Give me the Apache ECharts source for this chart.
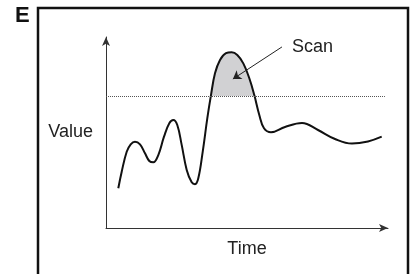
<!DOCTYPE html>
<html>
<head>
<meta charset="utf-8">
<script src="https://cdn.jsdelivr.net/npm/echarts@6/dist/echarts.min.js"></script>
<style>
  html, body { margin: 0; padding: 0; background: #fff; }
  #chart { width: 412px; height: 274px; }
</style>
</head>
<body>
<div id="chart"></div>
<script>
// curve (time 0-100, value 0-100)
const timePts = [4.36, 5.57, 7.34, 8.76, 10.28, 12.06, 13.83, 15.35, 16.77, 18.55,
  20.57, 22.45, 23.87, 25.28, 26.84, 28.62, 30.39, 31.56, 32.73, 34.29,
  35.92, 37.23, 38.65, 40.43, 42.55, 44.57, 46.56, 48.69, 50.82, 52.59,
  54.36, 56.03, 58.51, 63.48, 69.5, 75.18, 81.21, 87.23, 92.91, 97.77];
const valuePts = [20.8, 29.5, 39.9, 43.8, 45.2, 43.8, 39.1, 35.1, 34.4, 38.2,
  47.8, 54.8, 56.5, 53.9, 43.5, 30.4, 23.9, 22.9, 26.0, 39.9,
  57.4, 69.6, 81.0, 88.0, 91.5, 92.0, 90.6, 86.2, 78.4, 69.6,
  59.2, 52.2, 50.1, 52.9, 55.0, 51.3, 46.6, 44.2, 45.3, 47.8];
const threshold = 69.1;
// "Scan" pointer, from label to shaded peak
const scanFrom = [62.4, 94.8];
const scanTo = [45.0, 78.0];

const chart = echarts.init(document.getElementById('chart'));
const font = 'Liberation Sans, Arial, Helvetica, sans-serif';

const axisLine = {
  show: true,
  symbol: ['none', 'arrow'],
  symbolSize: [6, 9],
  lineStyle: { color: '#333', width: 1 }
};

chart.setOption({
  animation: false,
  grid: { left: 106, right: 24, top: 37, bottom: 46 },
  xAxis: {
    type: 'value', min: 0, max: 100,
    name: 'Time', nameLocation: 'middle', nameGap: 12,
    nameTextStyle: { fontFamily: font, fontSize: 18, color: '#222' },
    axisLine: axisLine,
    axisTick: { show: false }, axisLabel: { show: false }, splitLine: { show: false }
  },
  yAxis: {
    type: 'value', min: 0, max: 100,
    name: 'Value', nameLocation: 'middle', nameRotate: 0, nameGap: 13,
    nameTextStyle: { fontFamily: font, fontSize: 18, color: '#222', align: 'right', padding: [0, 0, 7, 0] },
    axisLine: axisLine,
    axisTick: { show: false }, axisLabel: { show: false }, splitLine: { show: false }
  },
  visualMap: {
    show: false, type: 'piecewise', dimension: 1, seriesIndex: 0,
    pieces: [
      { min: threshold, max: 100, color: '#d1d1d3' },
      { min: 0, max: threshold, color: 'rgba(255,255,255,0)' }
    ]
  },
  graphic: [
    { type: 'rect', shape: { x: 38, y: 8, width: 370, height: 300 },
      style: { fill: 'none', stroke: '#111', lineWidth: 2.5 }, silent: true },
    { type: 'text', left: 15, top: 5,
      style: { text: 'E', font: 'bold 22px ' + font, fill: '#111' } },
    { type: 'text', left: 292, top: 38,
      style: { text: 'Scan', font: '18px ' + font, fill: '#222' } }
  ],
  series: [
    {
      type: 'line',
      data: timePts.map((t, i) => [t, valuePts[i]]),
      smooth: 0.4,
      showSymbol: false,
      lineStyle: { color: '#111', width: 2 },
      areaStyle: { origin: threshold, opacity: 1 },
      z: 3
    },
    {
      type: 'line', data: [],
      markLine: {
        silent: true, symbol: 'none', animation: false,
        label: { show: false },
        lineStyle: { color: '#555', type: 'dotted', width: 1 },
        data: [[{ coord: [0, threshold] }, { coord: [98.9, threshold] }]]
      },
      z: 2
    },
    {
      type: 'line', data: [],
      markLine: {
        silent: true, symbol: ['none', 'arrow'], symbolSize: 8, animation: false,
        label: { show: false },
        lineStyle: { color: '#222', type: 'solid', width: 1 },
        data: [[{ coord: scanFrom }, { coord: scanTo }]]
      },
      z: 4
    }
  ]
});
</script>
</body>
</html>
